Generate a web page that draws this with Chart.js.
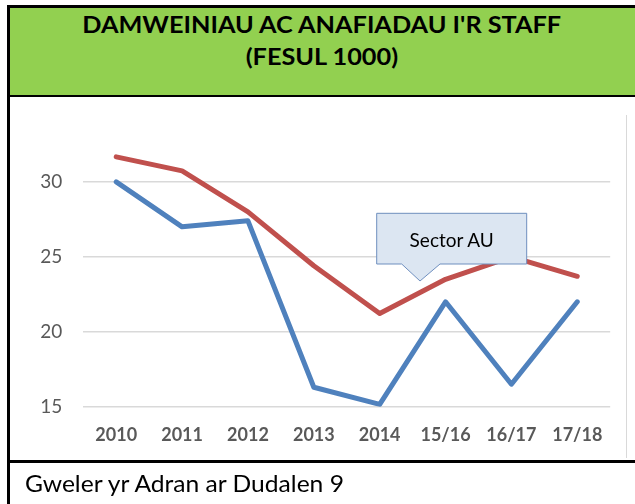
<!DOCTYPE html>
<html>
<head>
<meta charset="utf-8">
<script src="https://cdn.jsdelivr.net/npm/chart.js@4/dist/chart.umd.min.js"></script>
<style>
  html, body { margin:0; padding:0; background:#fff; width:635px; height:504px; overflow:hidden; }
  .abs { position:absolute; }
  .tl { position:absolute; left:9px; width:626px; text-align:center; font-family:Lato, sans-serif; font-weight:bold; font-size:23.5px; line-height:32px; color:#000; white-space:nowrap; }
  .tl span { display:inline-block; transform:scaleX(1.075); }
  #footer { left:25px; top:469.5px; font-family:Lato, sans-serif; font-size:23px; line-height:27.6px; color:#000; white-space:nowrap; transform-origin:0 0; transform:scaleX(1.07); }
  #chartBox { left:9px; top:97px; width:617px; height:363px; }
</style>
</head>
<body>
<div class="abs" style="left:9px;top:7px;width:626px;height:88px;background:#92d050;"></div>
<div class="abs" style="left:7px;top:5px;width:628px;height:2.5px;background:#000;"></div>
<div class="abs" style="left:7px;top:5px;width:2.5px;height:499px;background:#000;"></div>
<div class="abs" style="left:7px;top:95px;width:628px;height:2px;background:#000;"></div>
<div class="abs" style="left:7px;top:460px;width:628px;height:2.5px;background:#000;"></div>
<div class="abs" style="left:626px;top:115px;width:1px;height:343px;background:#d9d9d9;"></div>
<div class="tl" style="top:7.8px;"><span>DAMWEINIAU AC ANAFIADAU I'R STAFF</span></div>
<div class="tl" style="top:40.2px;"><span>(FESUL 1000)</span></div>
<div id="chartBox" class="abs"><canvas id="c" width="617" height="363"></canvas></div>
<svg class="abs" style="left:0;top:0;" width="635" height="504">
  <path d="M376.7 213.3 H526.7 V264 H440 L420 281 L401.7 264 H376.7 Z" fill="#dce6f2" stroke="#6f8fbf" stroke-width="1"/>
  <text x="451.7" y="247" text-anchor="middle" font-family="Lato, sans-serif" font-size="19" fill="#000">Sector AU</text>
</svg>
<div id="footer" class="abs">Gweler yr Adran ar Dudalen 9</div>
<script>
const categories = ['2010','2011','2012','2013','2014','15/16','16/17','17/18'];
const staffValues = [30.0, 27.0, 27.4, 16.3, 15.15, 22.0, 16.5, 22.0];
const sectorValues = [31.67, 30.73, 28.0, 24.4, 21.22, 23.5, 25.0, 23.7];
const yTickValues = [15, 20, 25, 30];
const yMin = 15, yMax = 33.5;

new Chart(document.getElementById('c'), {
  type: 'line',
  data: {
    labels: categories,
    datasets: [
      { label: 'Staff', data: staffValues, borderColor: '#4f81bd', backgroundColor: '#4f81bd',
        borderWidth: 5, pointRadius: 0, tension: 0, borderCapStyle: 'round', borderJoinStyle: 'round' },
      { label: 'Sector AU', data: sectorValues, borderColor: '#c0504d', backgroundColor: '#c0504d',
        borderWidth: 5, pointRadius: 0, tension: 0, borderCapStyle: 'round', borderJoinStyle: 'round' }
    ]
  },
  options: {
    responsive: false,
    animation: false,
    layout: { padding: { left: 0, right: 15.8, top: 24.7, bottom: 0 } },
    plugins: { legend: { display: false }, tooltip: { enabled: false } },
    scales: {
      x: {
        offset: true,
        grid: { display: false, drawTicks: false },
        border: { display: false },
        ticks: { color: '#595959', padding: 17.5, font: { family: 'Lato', size: 18, weight: 'bold' }, maxRotation: 0 },
        afterFit: (s) => { s.height = 53.3; }
      },
      y: {
        min: yMin, max: yMax,
        grid: { color: '#d9d9d9', lineWidth: 1.5, drawTicks: false },
        border: { display: false },
        ticks: { color: '#595959', padding: 21, font: { family: 'Lato', size: 19 } },
        afterBuildTicks: (s) => { s.ticks = yTickValues.map(v => ({ value: v })); },
        afterFit: (s) => { s.width = 74.3; }
      }
    }
  }
});
</script>
</body>
</html>
